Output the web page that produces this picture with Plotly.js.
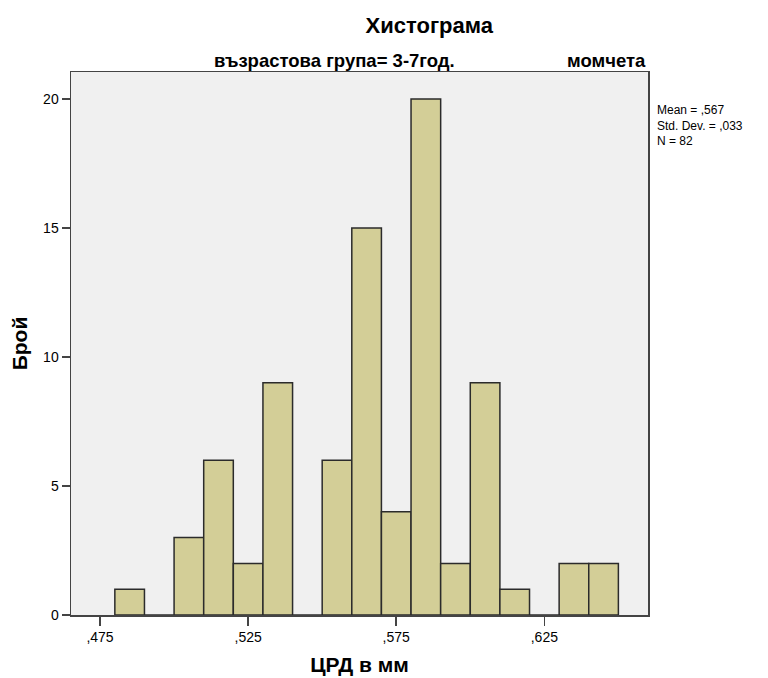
<!DOCTYPE html>
<html>
<head>
<meta charset="utf-8">
<script src="https://cdn.plot.ly/plotly-3.0.1.min.js"></script>
<style>html,body{margin:0;padding:0;background:#fff}</style>
</head>
<body>
<div id="chart" style="width:768px;height:678px"></div>
<script>
// Bin centers (bin width 0.01) and counts
const binCenters = [0.485, 0.495, 0.505, 0.515, 0.525, 0.535, 0.545, 0.555, 0.565, 0.575, 0.585, 0.595, 0.605, 0.615, 0.625, 0.635, 0.645];
const counts     = [1, 0, 3, 6, 2, 9, 0, 6, 15, 4, 20, 2, 9, 1, 0, 2, 2];
const binWidth = 0.01;
const xTickVals = [0.475, 0.525, 0.575, 0.625];
const xTickText = [",475", ",525", ",575", ",625"];
const yTickVals = [0, 5, 10, 15, 20];
const titleText = "Хистограма";
const panelLeft = "възрастова група= 3-7год.";
const panelRight = "момчета";
const xTitle = "ЦРД в мм";
const yTitle = "Брой";
const statsLines = ["Mean = ,567", "Std. Dev. = ,033", "N = 82"];

const FONT = "Liberation Sans, Arial, sans-serif";

const trace = {
  type: "bar",
  x: binCenters,
  y: counts,
  width: counts.map(() => binWidth),
  marker: {color: "#d3ce97", line: {color: "#2b2b2b", width: 1.5}},
  hoverinfo: "x+y"
};

const layout = {
  width: 768, height: 678,
  margin: {l: 71, r: 120, t: 72, b: 63},
  paper_bgcolor: "#ffffff",
  plot_bgcolor: "#f0f0f0",
  showlegend: false,
  bargap: 0,
  font: {family: FONT, size: 14, color: "#000"},
  title: {text: "<b>" + titleText + "</b>", font: {family: FONT, size: 22, color: "#000"}, x: 0.559, xanchor: "center", y: 0.963, yanchor: "middle"},
  xaxis: {
    range: [0.4652, 0.6600],
    tickvals: xTickVals, ticktext: xTickText,
    ticks: "outside", ticklen: 9, tickwidth: 1.5, tickcolor: "#444",
    showline: true, linecolor: "#444", linewidth: 1.5, mirror: true,
    showgrid: false, zeroline: false,
    tickfont: {family: FONT, size: 14, color: "#000"},
    title: {text: "<b>" + xTitle + "</b>", font: {family: FONT, size: 21, color: "#000"}, standoff: 13}
  },
  yaxis: {
    range: [0, 21.05],
    tickvals: yTickVals,
    ticks: "outside", ticklen: 8, tickwidth: 1.5, tickcolor: "#444",
    showline: true, linecolor: "#444", linewidth: 1.5, mirror: true,
    showgrid: false, zeroline: false,
    tickfont: {family: FONT, size: 14, color: "#000"},
    title: {text: "<b>" + yTitle + "</b>", font: {family: FONT, size: 21, color: "#000"}, standoff: 10}
  },
  annotations: [
    {text: "<b>" + panelLeft + "</b>", xref: "paper", yref: "paper", x: 0.4575, y: 1, yshift: 12, xanchor: "center", yanchor: "middle", showarrow: false, font: {family: FONT, size: 18.5, color: "#000"}},
    {text: "<b>" + panelRight + "</b>", xref: "paper", yref: "paper", x: 1, y: 1, yshift: 12, xanchor: "right", yanchor: "middle", showarrow: false, font: {family: FONT, size: 18.5, color: "#000"}},
    {text: statsLines.join("<br>"), xref: "paper", yref: "paper", x: 1, xshift: 7, y: 0.947, xanchor: "left", yanchor: "top", align: "left", showarrow: false, font: {family: FONT, size: 12, color: "#000"}}
  ]
};

Plotly.newPlot("chart", [trace], layout, {displayModeBar: false, staticPlot: true});
</script>
</body>
</html>
